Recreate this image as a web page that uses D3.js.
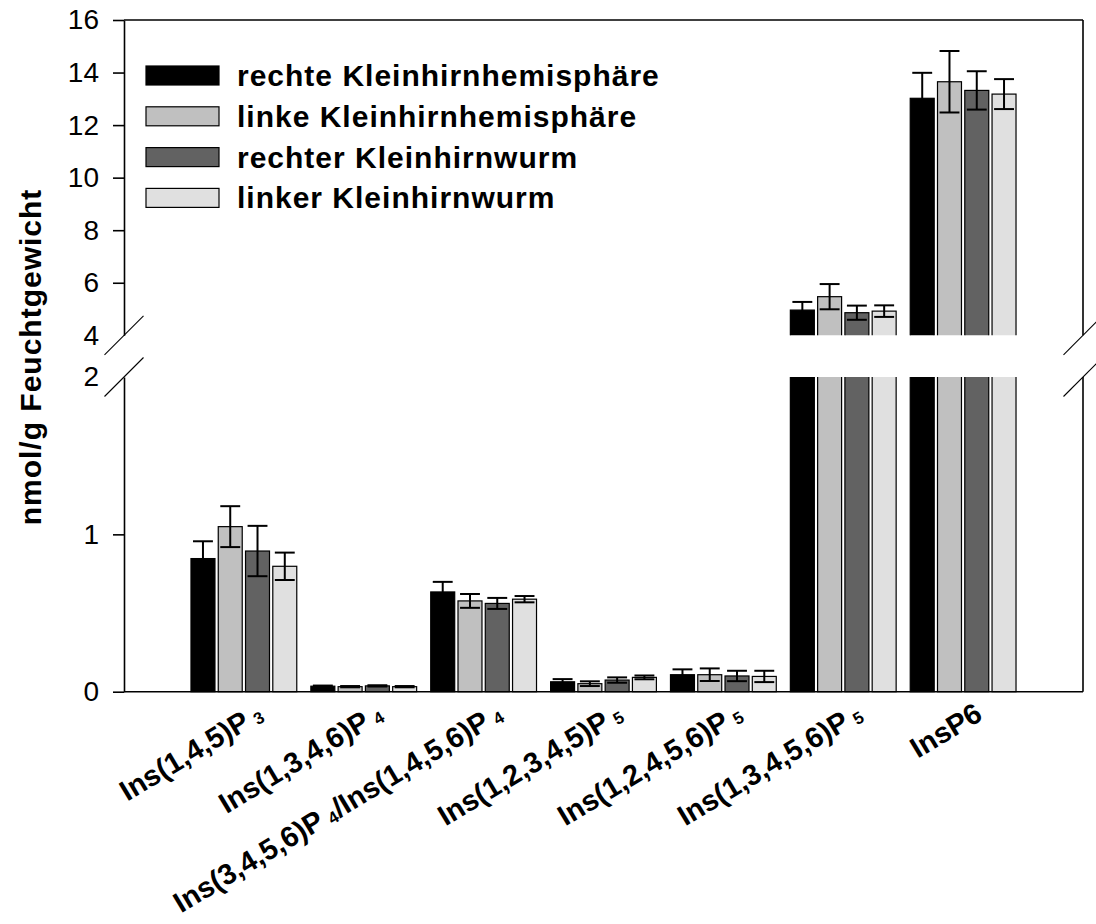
<!DOCTYPE html>
<html>
<head>
<meta charset="utf-8">
<script src="https://cdn.jsdelivr.net/npm/d3@7"></script>
<style>
  html, body { margin: 0; padding: 0; background: #fff; }
  svg { display: block; font-family: "Liberation Sans", Arial, sans-serif; }
</style>
</head>
<body>
<svg id="chart" width="1096" height="924"></svg>
<script>
// ---------- data ----------
const categories = [
  "Ins(1,4,5)P_3",
  "Ins(1,3,4,6)P_4",
  "Ins(3,4,5,6)P_4/Ins(1,4,5,6)P_4",
  "Ins(1,2,3,4,5)P_5",
  "Ins(1,2,4,5,6)P_5",
  "Ins(1,3,4,5,6)P_5",
  "InsP6"
];
const seriesNames = [
  "rechte Kleinhirnhemisphäre",
  "linke Kleinhirnhemisphäre",
  "rechter Kleinhirnwurm",
  "linker Kleinhirnwurm"
];
const seriesColors = ["#000000", "#c0c0c0", "#626262", "#e0e0e0"];
const rechteHemi     = [0.846, 0.035, 0.634, 0.063, 0.108, 4.96, 13.02];
const rechteHemiErr  = [0.110, 0.004, 0.064, 0.017, 0.034, 0.31, 0.97];
const linkeHemi      = [1.049, 0.032, 0.577, 0.051, 0.108, 5.47, 13.65];
const linkeHemiErr   = [0.130, 0.004, 0.044, 0.015, 0.040, 0.48, 1.17];
const rechterWurm    = [0.894, 0.037, 0.561, 0.074, 0.100, 4.86, 13.32];
const rechterWurmErr = [0.160, 0.004, 0.035, 0.017, 0.033, 0.27, 0.73];
const linkerWurm     = [0.797, 0.032, 0.588, 0.091, 0.097, 4.92, 13.18];
const linkerWurmErr  = [0.087, 0.004, 0.020, 0.012, 0.036, 0.22, 0.57];
const lowerTicks = [0, 1];
const upperTicks = [6, 8, 10, 12, 14, 16];
const breakLabels = [2, 4];
const yTitle = "nmol/g Feuchtgewicht";

const seriesValues = [rechteHemi, linkeHemi, rechterWurm, linkerWurm];
const seriesErrors = [rechteHemiErr, linkeHemiErr, rechterWurmErr, linkerWurmErr];

// ---------- layout ----------
const svg = d3.select("#chart");
const left = 124, right = 1083;
const lowerDomain = [0, 2], upperDomain = [4, 16];
const yLow = d3.scaleLinear().domain(lowerDomain).range([691.7, 377]);
const yUp = d3.scaleLinear().domain(upperDomain).range([335.3, 20]);
const x = d3.scaleLinear().domain([0, categories.length + 1]).range([left, right]);
const barW = 0.2, barStep = 0.2275;

const defs = svg.append("defs");
defs.append("clipPath").attr("id", "clipLow").append("rect")
  .attr("x", left).attr("y", yLow(2)).attr("width", right - left).attr("height", yLow(0) - yLow(2) + 2);
defs.append("clipPath").attr("id", "clipUp").append("rect")
  .attr("x", left).attr("y", yUp(16) - 2).attr("width", right - left).attr("height", yUp(4) - yUp(16) + 2);

const bars = [];
seriesValues.forEach((vals, s) => {
  vals.forEach((v, i) => {
    bars.push({ s, i, v, e: seriesErrors[s][i],
      x0: i + 1 - 1.5 * barStep - barW / 2 + s * barStep });
  });
});

// lower segment bars
const gLow = svg.append("g").attr("clip-path", "url(#clipLow)");
gLow.selectAll("rect").data(bars).join("rect")
  .attr("x", d => x(d.x0))
  .attr("width", d => x(d.x0 + barW) - x(d.x0))
  .attr("y", d => yLow(Math.min(d.v, 2.1)))
  .attr("height", d => yLow(0) - yLow(Math.min(d.v, 2.1)))
  .attr("fill", d => seriesColors[d.s])
  .attr("stroke", "#000").attr("stroke-width", 1.2);

// upper segment bars
const gUp = svg.append("g").attr("clip-path", "url(#clipUp)");
gUp.selectAll("rect").data(bars.filter(d => d.v > 4)).join("rect")
  .attr("x", d => x(d.x0))
  .attr("width", d => x(d.x0 + barW) - x(d.x0))
  .attr("y", d => yUp(d.v))
  .attr("height", d => yUp(3.9) - yUp(d.v))
  .attr("fill", d => seriesColors[d.s])
  .attr("stroke", "#000").attr("stroke-width", 1.2);

// error bars
const capHalf = 0.083;
const gErr = svg.append("g").attr("stroke", "#000").attr("stroke-width", 2).attr("fill", "none");
bars.forEach(d => {
  const sc = d.v > 4 ? yUp : yLow;
  const cx = d.x0 + barW / 2;
  const top = sc(d.v + d.e), bot = sc(d.v - d.e);
  gErr.append("line").attr("x1", x(cx)).attr("x2", x(cx)).attr("y1", top).attr("y2", bot);
  gErr.append("line").attr("x1", x(cx - capHalf)).attr("x2", x(cx + capHalf)).attr("y1", top).attr("y2", top);
  gErr.append("line").attr("x1", x(cx - capHalf)).attr("x2", x(cx + capHalf)).attr("y1", bot).attr("y2", bot);
});

// ---------- axes ----------
const axisFont = g => g.selectAll("text")
  .attr("font-family", "Liberation Sans, Arial, sans-serif")
  .attr("font-size", 28).attr("fill", "#000");

const axLow = svg.append("g").attr("transform", `translate(${left},0)`)
  .call(d3.axisLeft(yLow).tickValues(lowerTicks).tickSize(11).tickSizeOuter(0).tickPadding(14).tickFormat(d3.format("d")));
const axUp = svg.append("g").attr("transform", `translate(${left},0)`)
  .call(d3.axisLeft(yUp).tickValues(upperTicks).tickSize(11).tickSizeOuter(0).tickPadding(14).tickFormat(d3.format("d")));
const axBreakLow = svg.append("g").attr("transform", `translate(${left},0)`)
  .call(d3.axisLeft(yLow).tickValues([breakLabels[0]]).tickSize(0).tickPadding(25).tickFormat(d3.format("d")));
const axBreakUp = svg.append("g").attr("transform", `translate(${left},0)`)
  .call(d3.axisLeft(yUp).tickValues([breakLabels[1]]).tickSize(0).tickPadding(25).tickFormat(d3.format("d")));
[axBreakLow, axBreakUp].forEach(a => a.select(".domain").remove());
[axLow, axUp, axBreakLow, axBreakUp].forEach(a => {
  axisFont(a);
  a.selectAll("path, line").attr("stroke", "#000").attr("stroke-width", 1.6);
});

// frame: top, right (broken), bottom
const frame = svg.append("g").attr("stroke", "#000").attr("stroke-width", 1.6).attr("fill", "none");
frame.append("line").attr("x1", left).attr("x2", right).attr("y1", yUp(16)).attr("y2", yUp(16));
frame.append("line").attr("x1", right).attr("x2", right).attr("y1", yUp(16)).attr("y2", yUp(4));
frame.append("line").attr("x1", right).attr("x2", right).attr("y1", yLow(2)).attr("y2", yLow(0));
frame.append("line").attr("x1", left).attr("x2", right).attr("y1", yLow(0)).attr("y2", yLow(0));

// break marks
const brk = svg.append("g").attr("stroke", "#000").attr("stroke-width", 1.1);
[left, right].forEach(px => {
  [yUp(4), yLow(2)].forEach(py => {
    brk.append("line").attr("x1", px - 19.5).attr("y1", py + 19.5).attr("x2", px + 19.5).attr("y2", py - 19.5);
  });
});

// y title
svg.append("text")
  .attr("transform", `translate(41,357) rotate(-90)`)
  .attr("text-anchor", "middle")
  .attr("font-size", 30).attr("font-weight", "bold").attr("letter-spacing", 1)
  .text(yTitle);

// x category labels
const labG = svg.append("g");
categories.forEach((c, i) => {
  const t = labG.append("text")
    .attr("transform", `translate(${x(i + 1) + 21},719) rotate(-31)`)
    .attr("text-anchor", "end")
    .attr("font-size", 29).attr("font-weight", "bold");
  const parts = c.split(/_(\d)/);
  let shifted = false;
  parts.forEach((p, k) => {
    if (p === "") return;
    if (k % 2 === 1) {
      t.append("tspan").attr("font-size", 17).attr("dx", 6).attr("dy", 2).text(p);
      shifted = true;
    } else {
      const ts = t.append("tspan").text(p);
      if (shifted) { ts.attr("dy", -2); shifted = false; }
    }
  });
});

// legend
const leg = svg.append("g");
seriesNames.forEach((n, s) => {
  const cy = 75.5 + s * 40.8;
  leg.append("rect").attr("x", 146).attr("y", cy - 9.5).attr("width", 73).attr("height", 19)
    .attr("fill", seriesColors[s]).attr("stroke", "#000").attr("stroke-width", 1.2);
  leg.append("text").attr("x", 237).attr("y", cy + 10.5)
    .attr("font-size", 30).attr("font-weight", "bold").attr("letter-spacing", 1)
    .text(n);
});
</script>
</body>
</html>
